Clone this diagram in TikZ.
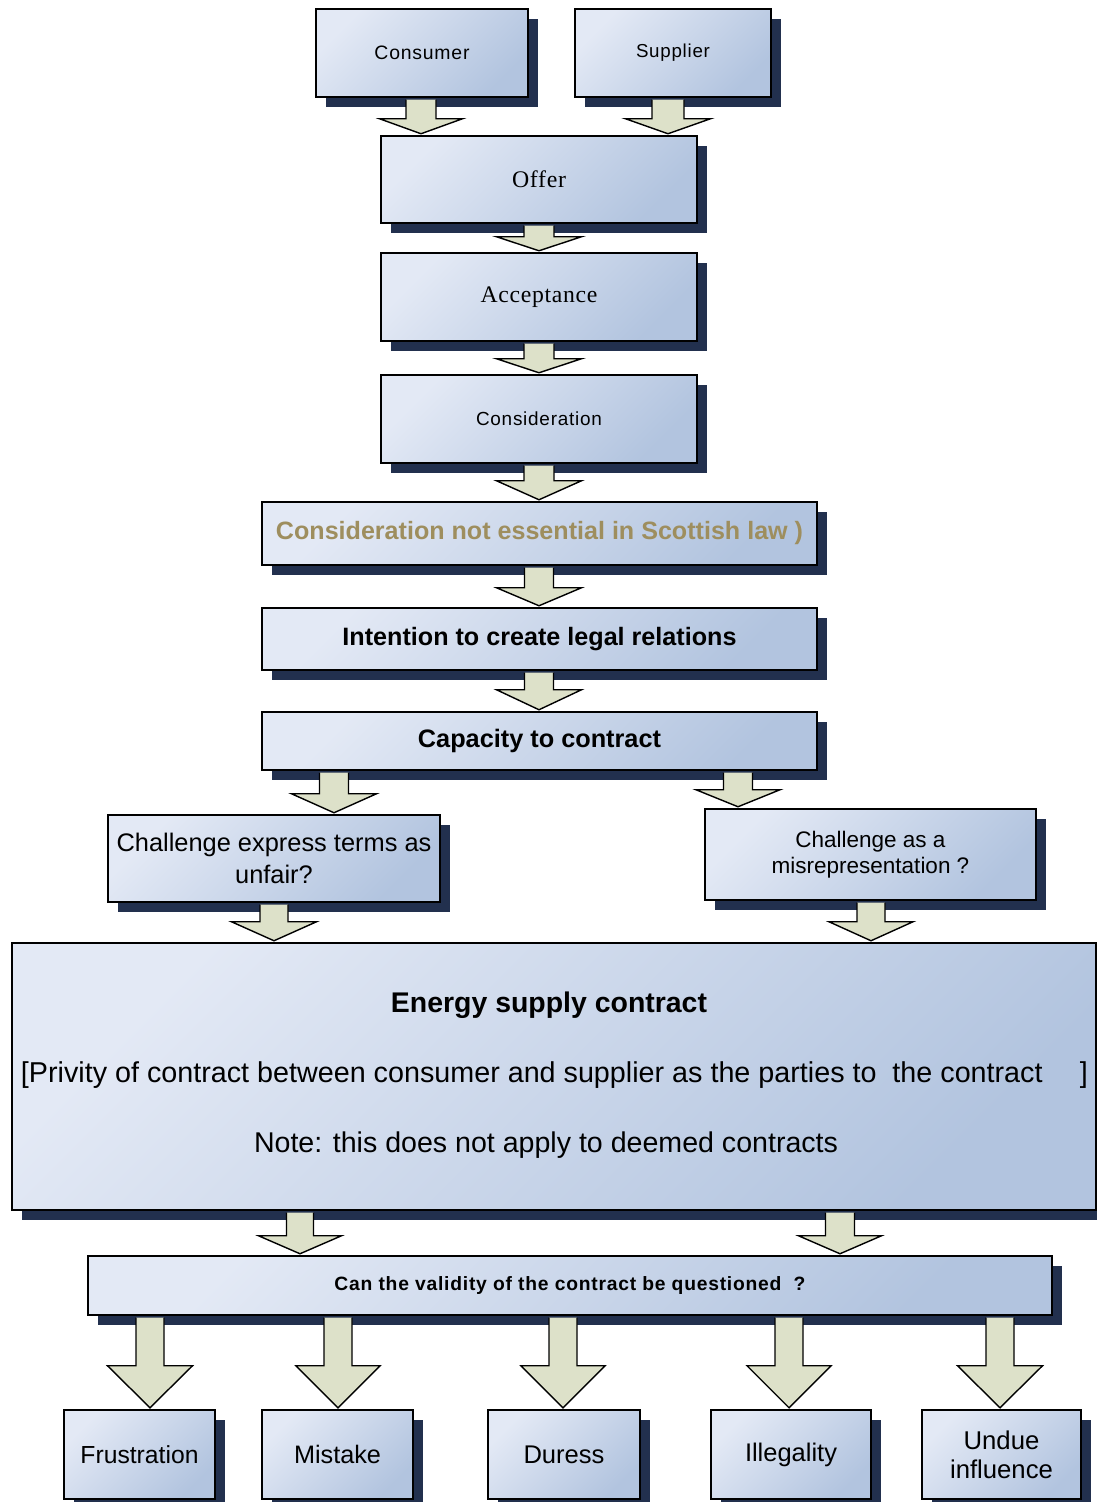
\documentclass[tikz,border=0pt]{standalone}
\usepackage{fontspec}
\setmainfont{Liberation Sans}
\newfontfamily\tnrfont[LetterSpace=3]{Liberation Serif}
\newfontfamily\spacedfont[LetterSpace=4]{Liberation Sans}
\usetikzlibrary{shadows,calc}
\definecolor{boxlight}{HTML}{E3E9F5}
\definecolor{boxdark}{HTML}{B2C4DF}
\definecolor{shadowcol}{HTML}{22304E}
\definecolor{arrowfill}{HTML}{DDE1C9}
\definecolor{olivetext}{HTML}{9E8E5E}
\newcommand\fitw[2]{\resizebox{#1pt}{!}{#2}}
\tikzset{
  box/.style={draw=black, line width=2.5pt, top color=boxlight, bottom color=boxdark,
    shading angle=45, inner sep=0pt,
    drop shadow={shadow xshift=10pt, shadow yshift=-10pt, fill=shadowcol, opacity=1}},
  txt/.style={inner sep=0pt, text=black},
  arrowline/.style={draw=black, line width=1.4pt, line join=miter},
}
% block arrow: #1 source node, #2 target node, #3 x, #4 half shaft, #5 half head, #6 head height
\newcommand\barrow[6]{%
  \fill[arrowfill] let \p1=(#1.south), \p2=(#2.north) in
    (#3pt-#4pt,\y1-1.25pt) -- (#3pt+#4pt,\y1-1.25pt) -- (#3pt+#4pt,\y2+#6pt+1pt)
    -- (#3pt+#5pt,\y2+#6pt+1pt) -- (#3pt,\y2+1pt) -- (#3pt-#5pt,\y2+#6pt+1pt)
    -- (#3pt-#4pt,\y2+#6pt+1pt) -- cycle;
  \draw[arrowline] let \p1=(#1.south), \p2=(#2.north) in
    (#3pt-#4pt,\y1-1.25pt) -- (#3pt-#4pt,\y2+#6pt+1pt) -- (#3pt-#5pt,\y2+#6pt+1pt)
    -- (#3pt,\y2+1pt) -- (#3pt+#5pt,\y2+#6pt+1pt) -- (#3pt+#4pt,\y2+#6pt+1pt)
    -- (#3pt+#4pt,\y1-1.25pt);
}
\begin{document}
\begin{tikzpicture}[x=1pt,y=-1pt]
\fill[white] (0,0) rectangle (1097,1502);
\useasboundingbox (0,0) rectangle (1097,1502);

% boxes
\node[box, minimum width=212pt, minimum height=88pt] (consumer) at (422,53)
  {\fitw{95}{\spacedfont Consumer}};
\node[box, minimum width=196pt, minimum height=88pt] (supplier) at (673,53)
  {\fitw{74}{\spacedfont Supplier}};
\node[box, minimum width=316pt, minimum height=87pt] (offer) at (539,179.5)
  {\fitw{54}{\tnrfont Offer}};
\node[box, minimum width=316pt, minimum height=88pt] (accept) at (539,297)
  {\fitw{117}{\tnrfont Acceptance}};
\node[box, minimum width=316pt, minimum height=88pt] (consid) at (539,419)
  {\fitw{126}{\spacedfont Consideration}};
\node[box, minimum width=555pt, minimum height=63pt] (notess) at (539.5,533.5)
  {\fitw{527}{\color{olivetext}\bfseries Consideration not essential in Scottish law )}};
\node[box, minimum width=555pt, minimum height=62pt] (intent) at (539.5,639)
  {\fitw{394}{\bfseries Intention to create legal relations}};
\node[box, minimum width=555pt, minimum height=58pt] (capac) at (539.5,741)
  {\fitw{243}{\bfseries Capacity to contract}};
\node[box, minimum width=332pt, minimum height=87pt, align=center,
  font=\fontsize{25.4}{32}\selectfont] (chexp) at (274,858.5)
  {Challenge express terms as\\unfair?};
\node[box, minimum width=331pt, minimum height=91pt, align=center,
  font=\fontsize{22.5}{26}\selectfont] (chmis) at (870.5,854.5)
  {Challenge as a\\misrepresentation ?};
\node[box, minimum width=1084pt, minimum height=267pt] (energy) at (554,1076.5) {};
\node[txt] (etitle) at (549,1005) {\fitw{316}{\bfseries Energy supply contract}};
\node[txt] (eprivity) at (554.5,1075)
  {\fitw{1067}{[Privity of contract between consumer and supplier as the parties to\ \ the contract\hspace{1.3em}]}};
\node[txt] (enote) at (546,1145) {\fitw{584}{Note: this does not apply to deemed contracts}};
\node[box, minimum width=964pt, minimum height=59pt] (valid) at (570,1285.5)
  {\fitw{471}{\spacedfont\bfseries Can the validity of the contract be questioned\ \ ?}};
\node[box, minimum width=151pt, minimum height=89pt] (frus) at (139.5,1454.5)
  {\fitw{118}{Frustration}};
\node[box, minimum width=151pt, minimum height=89pt] (mist) at (337.5,1454.5)
  {\fitw{87}{Mistake}};
\node[box, minimum width=152pt, minimum height=89pt] (dur) at (564,1454.5)
  {\fitw{81}{Duress}};
\node[box, minimum width=160pt, minimum height=89pt] (illeg) at (791,1454.5)
  {\fitw{92}{Illegality}};
\node[box, minimum width=159pt, minimum height=89pt, align=center,
  font=\fontsize{25.7}{29}\selectfont] (undue) at (1001.5,1454.5)
  {Undue\\influence};

% block arrows
\barrow{consumer}{offer}{421}{15}{41.5}{15}
\barrow{supplier}{offer}{668}{16}{42.5}{15}
\barrow{offer}{accept}{539}{15}{42.5}{14}
\barrow{accept}{consid}{539}{15}{42.5}{14}
\barrow{consid}{notess}{539}{15}{42.5}{19}
\barrow{notess}{intent}{539}{14.5}{42.5}{18}
\barrow{intent}{capac}{539}{14.5}{42.5}{20}
\barrow{capac}{chexp}{334}{14.5}{42.5}{19}
\barrow{capac}{chmis}{738}{14.5}{42}{17}
\barrow{chexp}{energy}{274}{14}{42.5}{19}
\barrow{chmis}{energy}{871}{14}{42}{19}
\barrow{energy}{valid}{300}{13.5}{41.5}{18}
\barrow{energy}{valid}{840}{14.5}{41.5}{18}
\barrow{valid}{frus}{150}{14}{42.5}{42}
\barrow{valid}{mist}{338}{14}{42}{42}
\barrow{valid}{dur}{563}{14}{42}{42}
\barrow{valid}{illeg}{789}{14}{42}{42}
\barrow{valid}{undue}{1000}{14}{42.5}{42}
\end{tikzpicture}
\end{document}
